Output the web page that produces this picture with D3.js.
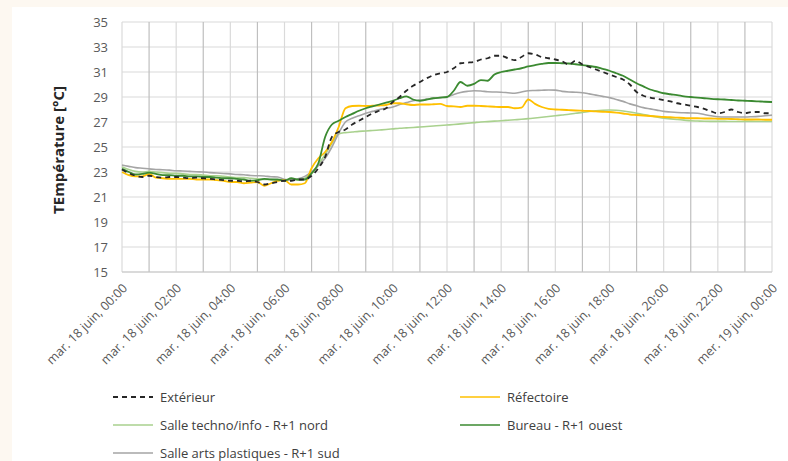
<!DOCTYPE html>
<html>
<head>
<meta charset="utf-8">
<script src="https://cdn.jsdelivr.net/npm/d3@7"></script>
<style>
  body { margin: 0; background: #fdf8f1; }
  #chart { position: absolute; left: 12px; top: 7px; width: 776px; height: 454px; background: #fff; }
  text { font-family: "Open Sans", sans-serif; }
</style>
</head>
<body>
<div id="chart"></div>
<script>
// heures (pas de 15 min) de mar. 18 juin 00:00 à mer. 19 juin 00:00
var heures = d3.range(0, 24.001, 0.25);

var tickLabels = ["mar. 18 juin, 00:00", "mar. 18 juin, 02:00", "mar. 18 juin, 04:00",
  "mar. 18 juin, 06:00", "mar. 18 juin, 08:00", "mar. 18 juin, 10:00", "mar. 18 juin, 12:00",
  "mar. 18 juin, 14:00", "mar. 18 juin, 16:00", "mar. 18 juin, 18:00", "mar. 18 juin, 20:00",
  "mar. 18 juin, 22:00", "mer. 19 juin, 00:00"];
var yTicks = [15, 17, 19, 21, 23, 25, 27, 29, 31, 33, 35];

var exterieur = [23.2, 22.9, 22.7, 22.6, 22.7, 22.6, 22.55, 22.6, 22.6, 22.55, 22.5, 22.55,
  22.5, 22.45, 22.4, 22.35, 22.3, 22.3, 22.25, 22.3, 22.2, 22.0, 22.1, 22.2,
  22.3, 22.3, 22.4, 22.4, 22.7, 23.3, 24.2, 25.8, 26.2, 26.4, 26.8, 27.1,
  27.4, 27.7, 27.9, 28.1, 28.6, 29.0, 29.5, 29.9, 30.2, 30.5, 30.75, 30.9,
  31.0, 31.3, 31.7, 31.75, 31.8, 32.0, 32.1, 32.3, 32.3, 32.1, 31.95, 32.2,
  32.5, 32.4, 32.2, 32.1, 32.0, 31.85, 31.6, 31.9, 31.6, 31.4, 31.2, 31.0,
  30.8, 30.6, 30.4, 30.0, 29.4, 29.1, 28.95, 28.85, 28.75, 28.65, 28.5, 28.4,
  28.3, 28.2, 28.05, 27.85, 27.7, 27.8, 28.0, 27.8, 27.7, 27.8, 27.8, 27.7, 27.7];

var refectoire = [23.0, 22.75, 22.65, 22.65, 22.85, 22.55, 22.5, 22.45, 22.45, 22.45, 22.45, 22.4,
  22.4, 22.4, 22.35, 22.3, 22.2, 22.2, 22.1, 22.15, 22.2, 21.9, 22.1, 22.3,
  22.35, 22.0, 22.0, 22.1, 23.3, 24.1, 24.6, 25.4, 26.6, 28.1, 28.28, 28.3,
  28.28, 28.3, 28.32, 28.36, 28.5, 28.5, 28.42, 28.36, 28.4, 28.4, 28.42, 28.45,
  28.28, 28.25, 28.2, 28.3, 28.3, 28.28, 28.25, 28.22, 28.2, 28.2, 28.1, 28.15,
  28.8, 28.45, 28.2, 28.05, 28.0, 27.98, 27.95, 27.92, 27.9, 27.88, 27.85, 27.82,
  27.8, 27.75, 27.68, 27.6, 27.56, 27.52, 27.48, 27.44, 27.4, 27.38, 27.35, 27.32,
  27.3, 27.3, 27.28, 27.28, 27.26, 27.25, 27.24, 27.22, 27.2, 27.2, 27.2, 27.18, 27.18];

var techno = [23.4, 23.2, 23.05, 23.0, 23.05, 23.0, 22.95, 22.9, 22.9, 22.85, 22.8, 22.8,
  22.75, 22.7, 22.7, 22.65, 22.6, 22.55, 22.55, 22.5, 22.45, 22.4, 22.4, 22.35,
  22.4, 22.4, 22.35, 22.5, 22.9, 23.6, 24.4, 25.3, 26.05, 26.15, 26.2, 26.25,
  26.28, 26.32, 26.36, 26.4, 26.45, 26.5, 26.53, 26.56, 26.6, 26.64, 26.68, 26.72,
  26.76, 26.8, 26.85, 26.9, 26.95, 27.0, 27.03, 27.07, 27.1, 27.14, 27.18, 27.22,
  27.27, 27.32, 27.38, 27.44, 27.5, 27.56, 27.62, 27.7, 27.76, 27.84, 27.9, 27.94,
  27.96, 27.94, 27.88, 27.8, 27.7, 27.6, 27.5, 27.4, 27.3, 27.25, 27.2, 27.15,
  27.1, 27.08, 27.06, 27.05, 27.05, 27.05, 27.04, 27.04, 27.05, 27.05, 27.04, 27.04, 27.04];

var bureau = [23.25, 23.0, 22.8, 22.85, 22.95, 22.85, 22.75, 22.75, 22.7, 22.7, 22.65, 22.65,
  22.6, 22.6, 22.55, 22.5, 22.5, 22.45, 22.4, 22.3, 22.35, 22.45, 22.4, 22.4,
  22.3, 22.5, 22.4, 22.4, 22.9, 23.7, 25.8, 26.8, 27.1, 27.4, 27.65, 27.9,
  28.1, 28.25, 28.4, 28.55, 28.7, 28.9, 29.05, 28.8, 28.7, 28.8, 28.9, 28.95,
  29.0, 29.5, 30.2, 29.9, 30.05, 30.35, 30.3, 30.8, 31.0, 31.1, 31.2, 31.3,
  31.45, 31.55, 31.65, 31.72, 31.72, 31.7, 31.68, 31.62, 31.55, 31.48, 31.4, 31.25,
  31.1, 30.9, 30.7, 30.4, 30.1, 29.85, 29.6, 29.45, 29.3, 29.22, 29.15, 29.05,
  29.0, 28.95, 28.9, 28.85, 28.82, 28.8, 28.76, 28.72, 28.7, 28.68, 28.65, 28.62, 28.6];

var artsPlastiques = [23.55, 23.45, 23.35, 23.3, 23.25, 23.2, 23.18, 23.15, 23.1, 23.08, 23.05, 23.02,
  23.0, 22.95, 22.92, 22.88, 22.85, 22.8, 22.78, 22.72, 22.7, 22.68, 22.62, 22.6,
  22.4, 22.35, 22.45, 22.65, 23.0, 23.5, 24.1, 25.0, 26.1, 27.0, 27.3, 27.5,
  27.7, 27.85, 28.0, 28.1, 28.2, 28.4, 28.55, 28.7, 28.76, 28.82, 28.9, 28.95,
  29.0, 29.2, 29.36, 29.45, 29.5, 29.48, 29.42, 29.4, 29.38, 29.34, 29.3, 29.4,
  29.5, 29.52, 29.54, 29.56, 29.55, 29.45, 29.4, 29.38, 29.34, 29.25, 29.15, 29.05,
  28.95, 28.8, 28.65, 28.45, 28.3, 28.15, 28.05, 27.95, 27.85, 27.8, 27.76, 27.74,
  27.72, 27.7, 27.6, 27.5, 27.42, 27.4, 27.4, 27.4, 27.4, 27.42, 27.45, 27.5, 27.55];

(function () {

var series = [
  { nom: "Salle techno/info - R+1 nord", valeurs: techno, couleur: "#a9d18e", largeur: 1.6, dash: null },
  { nom: "Salle arts plastiques - R+1 sud", valeurs: artsPlastiques, couleur: "#a5a5a5", largeur: 1.6, dash: null },
  { nom: "Réfectoire", valeurs: refectoire, couleur: "#ffc000", largeur: 1.8, dash: null },
  { nom: "Bureau - R+1 ouest", valeurs: bureau, couleur: "#3b8a31", largeur: 1.8, dash: null },
  { nom: "Extérieur", valeurs: exterieur, couleur: "#262626", largeur: 1.8, dash: "5,4" }
];

var svg = d3.select("#chart").append("svg")
    .attr("width", 776)
    .attr("height", 454);

// coordonnées relatives au panneau blanc (décalé de 12,7)
var pLeft = 110, pRight = 760, pTop = 15, pBottom = 265;

var x = d3.scaleLinear().domain([0, 24]).range([pLeft, pRight]);
var y = d3.scaleLinear().domain([15, 35]).range([pBottom, pTop]);

// grille horizontale
svg.append("g")
  .selectAll("line")
  .data(yTicks)
  .enter().append("line")
    .attr("x1", pLeft).attr("x2", pRight)
    .attr("y1", function(d) { return y(d); })
    .attr("y2", function(d) { return y(d); })
    .attr("stroke", "#d9d9d9")
    .attr("stroke-width", 1.2);

// grille verticale (toutes les heures, plus foncée aux heures impaires)
svg.append("g")
  .selectAll("line")
  .data(d3.range(0, 25))
  .enter().append("line")
    .attr("x1", function(d) { return x(d); })
    .attr("x2", function(d) { return x(d); })
    .attr("y1", pTop).attr("y2", pBottom)
    .attr("stroke", function(d) { return d % 2 == 1 ? "#bfbfbf" : "#dadada"; })
    .attr("stroke-width", 1.2);

// axe du bas
svg.append("line")
  .attr("x1", pLeft).attr("x2", pRight)
  .attr("y1", pBottom).attr("y2", pBottom)
  .attr("stroke", "#c8c8c8")
  .attr("stroke-width", 1.2);

// étiquettes Y
svg.append("g")
  .selectAll("text")
  .data(yTicks)
  .enter().append("text")
    .attr("x", pLeft - 14)
    .attr("y", function(d) { return y(d); })
    .attr("dy", "0.35em")
    .attr("text-anchor", "end")
    .style("font-size", "13px")
    .style("fill", "#595959")
    .text(function(d) { return d; });

svg.append("text")
  .attr("transform", "translate(" + 47 + "," + 143 + ") rotate(-90)")
  .attr("text-anchor", "middle")
  .attr("dy", "0.35em")
  .style("font-size", "15px")
  .style("font-weight", "bold")
  .style("fill", "#262626")
  .text("TEmpérature [°C]");

// étiquettes X
svg.append("g")
  .selectAll("text")
  .data(tickLabels)
  .enter().append("text")
    .attr("transform", function(d, i) {
      return "translate(" + (x(i * 2) + 6) + "," + (pBottom + 17) + ") rotate(-45)";
    })
    .attr("text-anchor", "end")
    .style("font-size", "12.5px")
    .style("fill", "#595959")
    .text(function(d) { return d; });

// courbes
var line = d3.line()
  .x(function(d, i) { return x(heures[i]); })
  .y(function(d) { return y(d); })
  .curve(d3.curveMonotoneX);

svg.append("g")
  .selectAll("path")
  .data(series)
  .enter().append("path")
    .attr("fill", "none")
    .attr("stroke", function(d) { return d.couleur; })
    .attr("stroke-width", function(d) { return d.largeur; })
    .attr("stroke-dasharray", function(d) { return d.dash; })
    .attr("stroke-linejoin", "round")
    .attr("d", function(d) { return line(d.valeurs); });

// légende
var legendItems = [
  { s: series[4], col: 0, row: 0 },
  { s: series[2], col: 1, row: 0 },
  { s: series[0], col: 0, row: 1 },
  { s: series[3], col: 1, row: 1 },
  { s: series[1], col: 0, row: 2 }
];

var leg = svg.append("g")
  .selectAll("g")
  .data(legendItems)
  .enter().append("g")
    .attr("transform", function(d) {
      return "translate(" + (d.col == 0 ? 101 : 448) + "," + (390 + d.row * 28) + ")";
    });

leg.append("line")
  .attr("x1", 0).attr("x2", 40)
  .attr("stroke", function(d) { return d.s.couleur; })
  .attr("stroke-width", function(d) { return d.s.dash ? 1.8 : 1.5; })
  .attr("stroke-dasharray", function(d) { return d.s.dash; });

leg.append("text")
  .attr("x", 47)
  .attr("dy", "0.35em")
  .style("font-size", "13px")
  .style("fill", "#404040")
  .text(function(d) { return d.s.nom; });

})();
</script>
</body>
</html>
